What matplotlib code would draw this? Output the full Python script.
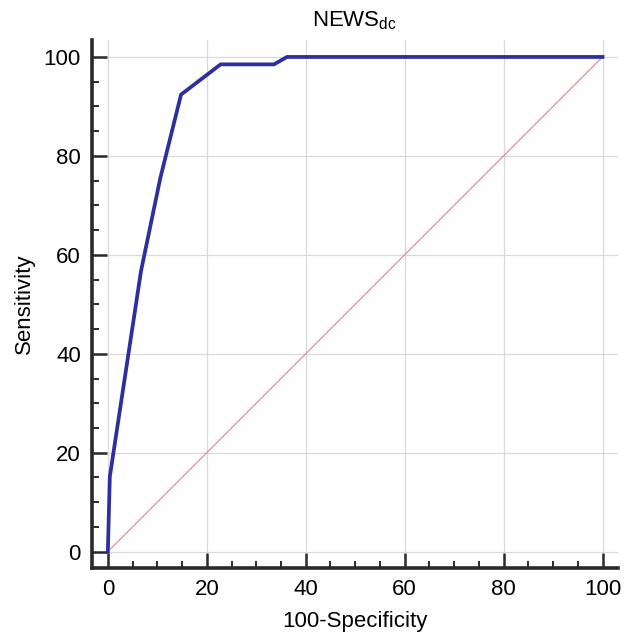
import numpy as np
import matplotlib.pyplot as plt
from matplotlib.ticker import MultipleLocator

plt.rcParams['font.family'] = ['Liberation Sans', 'DejaVu Sans']

# ROC curve for NEWS_dc
fpr = [0, 0.4, 6.7, 10.6, 14.8, 22.8, 33.6, 36.2, 100]
sens = [0, 15.2, 56.7, 75.5, 92.4, 98.5, 98.5, 100, 100]
diag = [0, 100]

fig = plt.figure(figsize=(6.32, 6.36), dpi=100)
ax = fig.add_axes([0.1456, 0.1069, 0.832, 0.830])

ax.grid(True, color='#d9d9d9', linewidth=0.9)
ax.set_axisbelow(True)
ax.plot(diag, diag, color='#d98a8a', linewidth=0.8)
ax.plot(fpr, sens, color='#2e2f9e', linewidth=2.7, solid_joinstyle='miter')

ax.set_xlim(-3.2, 103.1)
ax.set_ylim(-3.3, 103.4)
ax.xaxis.set_major_locator(MultipleLocator(20))
ax.yaxis.set_major_locator(MultipleLocator(20))
ax.xaxis.set_minor_locator(MultipleLocator(5))
ax.yaxis.set_minor_locator(MultipleLocator(5))

for s in ['top', 'right']:
    ax.spines[s].set_visible(False)
for s in ['left', 'bottom']:
    ax.spines[s].set_linewidth(2.6)
    ax.spines[s].set_color('#2a2a2a')

ax.tick_params(which='major', direction='in', length=11, width=1.8,
               color='#2a2a2a', labelsize=16, pad=8)
ax.tick_params(which='minor', direction='in', length=5, width=1.4,
               color='#2a2a2a')

ax.set_xlabel('100-Specificity', fontsize=16, labelpad=8)
ax.set_ylabel('Sensitivity', fontsize=16, labelpad=6)
ax.set_title('NEWS$_{\\mathregular{dc}}$', fontsize=16, pad=10)

plt.savefig('out.png', dpi=100)
